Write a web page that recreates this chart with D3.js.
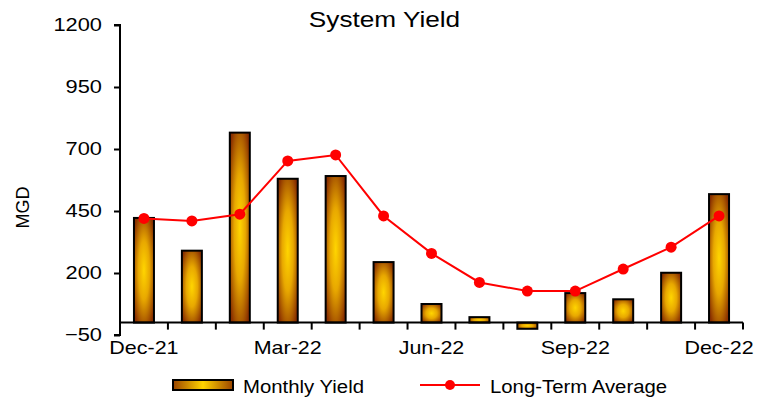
<!DOCTYPE html>
<html><head><meta charset="utf-8">
<script src="https://cdn.jsdelivr.net/npm/d3@7"></script>
<style>body{margin:0;background:#fff}svg{display:block;font-family:"Liberation Sans",Arial,sans-serif}</style>
</head><body><svg id="c" width="768" height="400"></svg>
<script>
const categories = ["Dec-21","Jan-22","Feb-22","Mar-22","Apr-22","May-22","Jun-22","Jul-22","Aug-22","Sep-22","Oct-22","Nov-22","Dec-22"];
const monthlyYield = [422, 290, 766, 580, 591, 244, 75, 22, -25, 119, 94, 201, 518];
const longTermAverage = [420, 410, 437, 652, 676, 430, 279, 162, 127, 127, 216, 304, 430];
const yTicks = [-50, 200, 450, 700, 950, 1200];
const xLabelCats = ["Dec-21","Mar-22","Jun-22","Sep-22","Dec-22"];

(function(){
const svg = d3.select("#c");
const pLeft = 120, pRight = 743, pTop = 25, pBottom = 335;
const x = d3.scaleBand().domain(categories).range([pLeft, pRight]).padding(0);
const y = d3.scaleLinear().domain([-50, 1200]).range([pBottom, pTop]);

function stretch(sel, f){
  sel.each(function(){
    const w = this.getComputedTextLength();
    d3.select(this).attr("textLength", w*f).attr("lengthAdjust","spacingAndGlyphs");
  });
}

const defs = svg.append("defs");
const g1 = defs.append("radialGradient").attr("id","barGrad").attr("cx",0.5).attr("cy",0.5).attr("r",0.62);
g1.append("stop").attr("offset","0%").attr("stop-color","#FFD500");
g1.append("stop").attr("offset","45%").attr("stop-color","#E8A800");
g1.append("stop").attr("offset","100%").attr("stop-color","#8A3000");
const g2 = defs.append("linearGradient").attr("id","legGrad").attr("x1",0).attr("x2",1).attr("y1",0).attr("y2",0);
g2.append("stop").attr("offset","0%").attr("stop-color","#9A4400");
g2.append("stop").attr("offset","50%").attr("stop-color","#FFD500");
g2.append("stop").attr("offset","100%").attr("stop-color","#9A4400");

const title = svg.append("text").attr("x",384.5).attr("y",27).attr("text-anchor","middle").attr("font-size",22).text("System Yield");
stretch(title, 1.19);
svg.append("text").attr("transform","translate(29,207.5) rotate(-90)").attr("text-anchor","middle").attr("font-size",18).text("MGD");

const bw = 20;
svg.append("g").selectAll("rect").data(monthlyYield).join("rect")
  .attr("x",(d,i)=>x(categories[i])+x.bandwidth()/2-bw/2)
  .attr("y",d=>y(Math.max(0,d)))
  .attr("width",bw)
  .attr("height",d=>Math.abs(y(d)-y(0)))
  .attr("fill","url(#barGrad)").attr("stroke","#000").attr("stroke-width",2);

const yAxis = d3.axisLeft(y).tickValues(yTicks).tickSize(6).tickFormat(d3.format("d"));
const ya = svg.append("g").attr("transform",`translate(${pLeft},0)`).call(yAxis);
ya.attr("font-size",null).attr("font-family",null);
ya.select(".domain").attr("stroke","#000").attr("stroke-width",2).attr("d",`M-6,${y(1200)}H0V${y(-50)}H-6`);
ya.selectAll(".tick line").attr("stroke","#000").attr("stroke-width",2);
ya.selectAll(".tick text").attr("font-size",18.5).attr("fill","#000").attr("x",-18).attr("dy","0.3em");
stretch(ya.selectAll(".tick text"), 1.18);

const xa = svg.append("g").attr("transform",`translate(0,${y(0)})`);
xa.append("line").attr("x1",pLeft).attr("x2",pRight).attr("y1",0).attr("y2",0).attr("stroke","#000").attr("stroke-width",2);
const bounds = categories.map(c=>x(c)).concat([pRight]);
xa.selectAll(".tk").data(bounds).join("line").attr("class","tk")
  .attr("x1",d=>d).attr("x2",d=>d).attr("y1",0).attr("y2",7).attr("stroke","#000").attr("stroke-width",2);
const xl = svg.append("g").selectAll("text").data(xLabelCats).join("text")
  .attr("x",d=>x(d)+x.bandwidth()/2).attr("y",354).attr("text-anchor","middle").attr("font-size",18.5).text(d=>d);
stretch(xl, 1.16);

const line = d3.line().x((d,i)=>x(categories[i])+x.bandwidth()/2).y(d=>y(d));
svg.append("path").datum(longTermAverage).attr("d",line).attr("fill","none").attr("stroke","#FF0000").attr("stroke-width",2);
svg.append("g").selectAll("circle").data(longTermAverage).join("circle")
  .attr("cx",(d,i)=>x(categories[i])+x.bandwidth()/2).attr("cy",d=>y(d)).attr("r",5.5).attr("fill","#FF0000");

const lg = svg.append("g");
lg.append("rect").attr("x",173).attr("y",380).attr("width",60).attr("height",10).attr("fill","url(#legGrad)").attr("stroke","#000").attr("stroke-width",2);
const t1 = lg.append("text").attr("x",243).attr("y",393).attr("font-size",18).text("Monthly Yield");
lg.append("line").attr("x1",420).attr("x2",480).attr("y1",385).attr("y2",385).attr("stroke","#FF0000").attr("stroke-width",2);
lg.append("circle").attr("cx",450).attr("cy",385).attr("r",5).attr("fill","#FF0000");
const t2 = lg.append("text").attr("x",490).attr("y",393).attr("font-size",18).text("Long-Term Average");
stretch(t1, 1.13); stretch(t2, 1.13);
})();
</script></body></html>
